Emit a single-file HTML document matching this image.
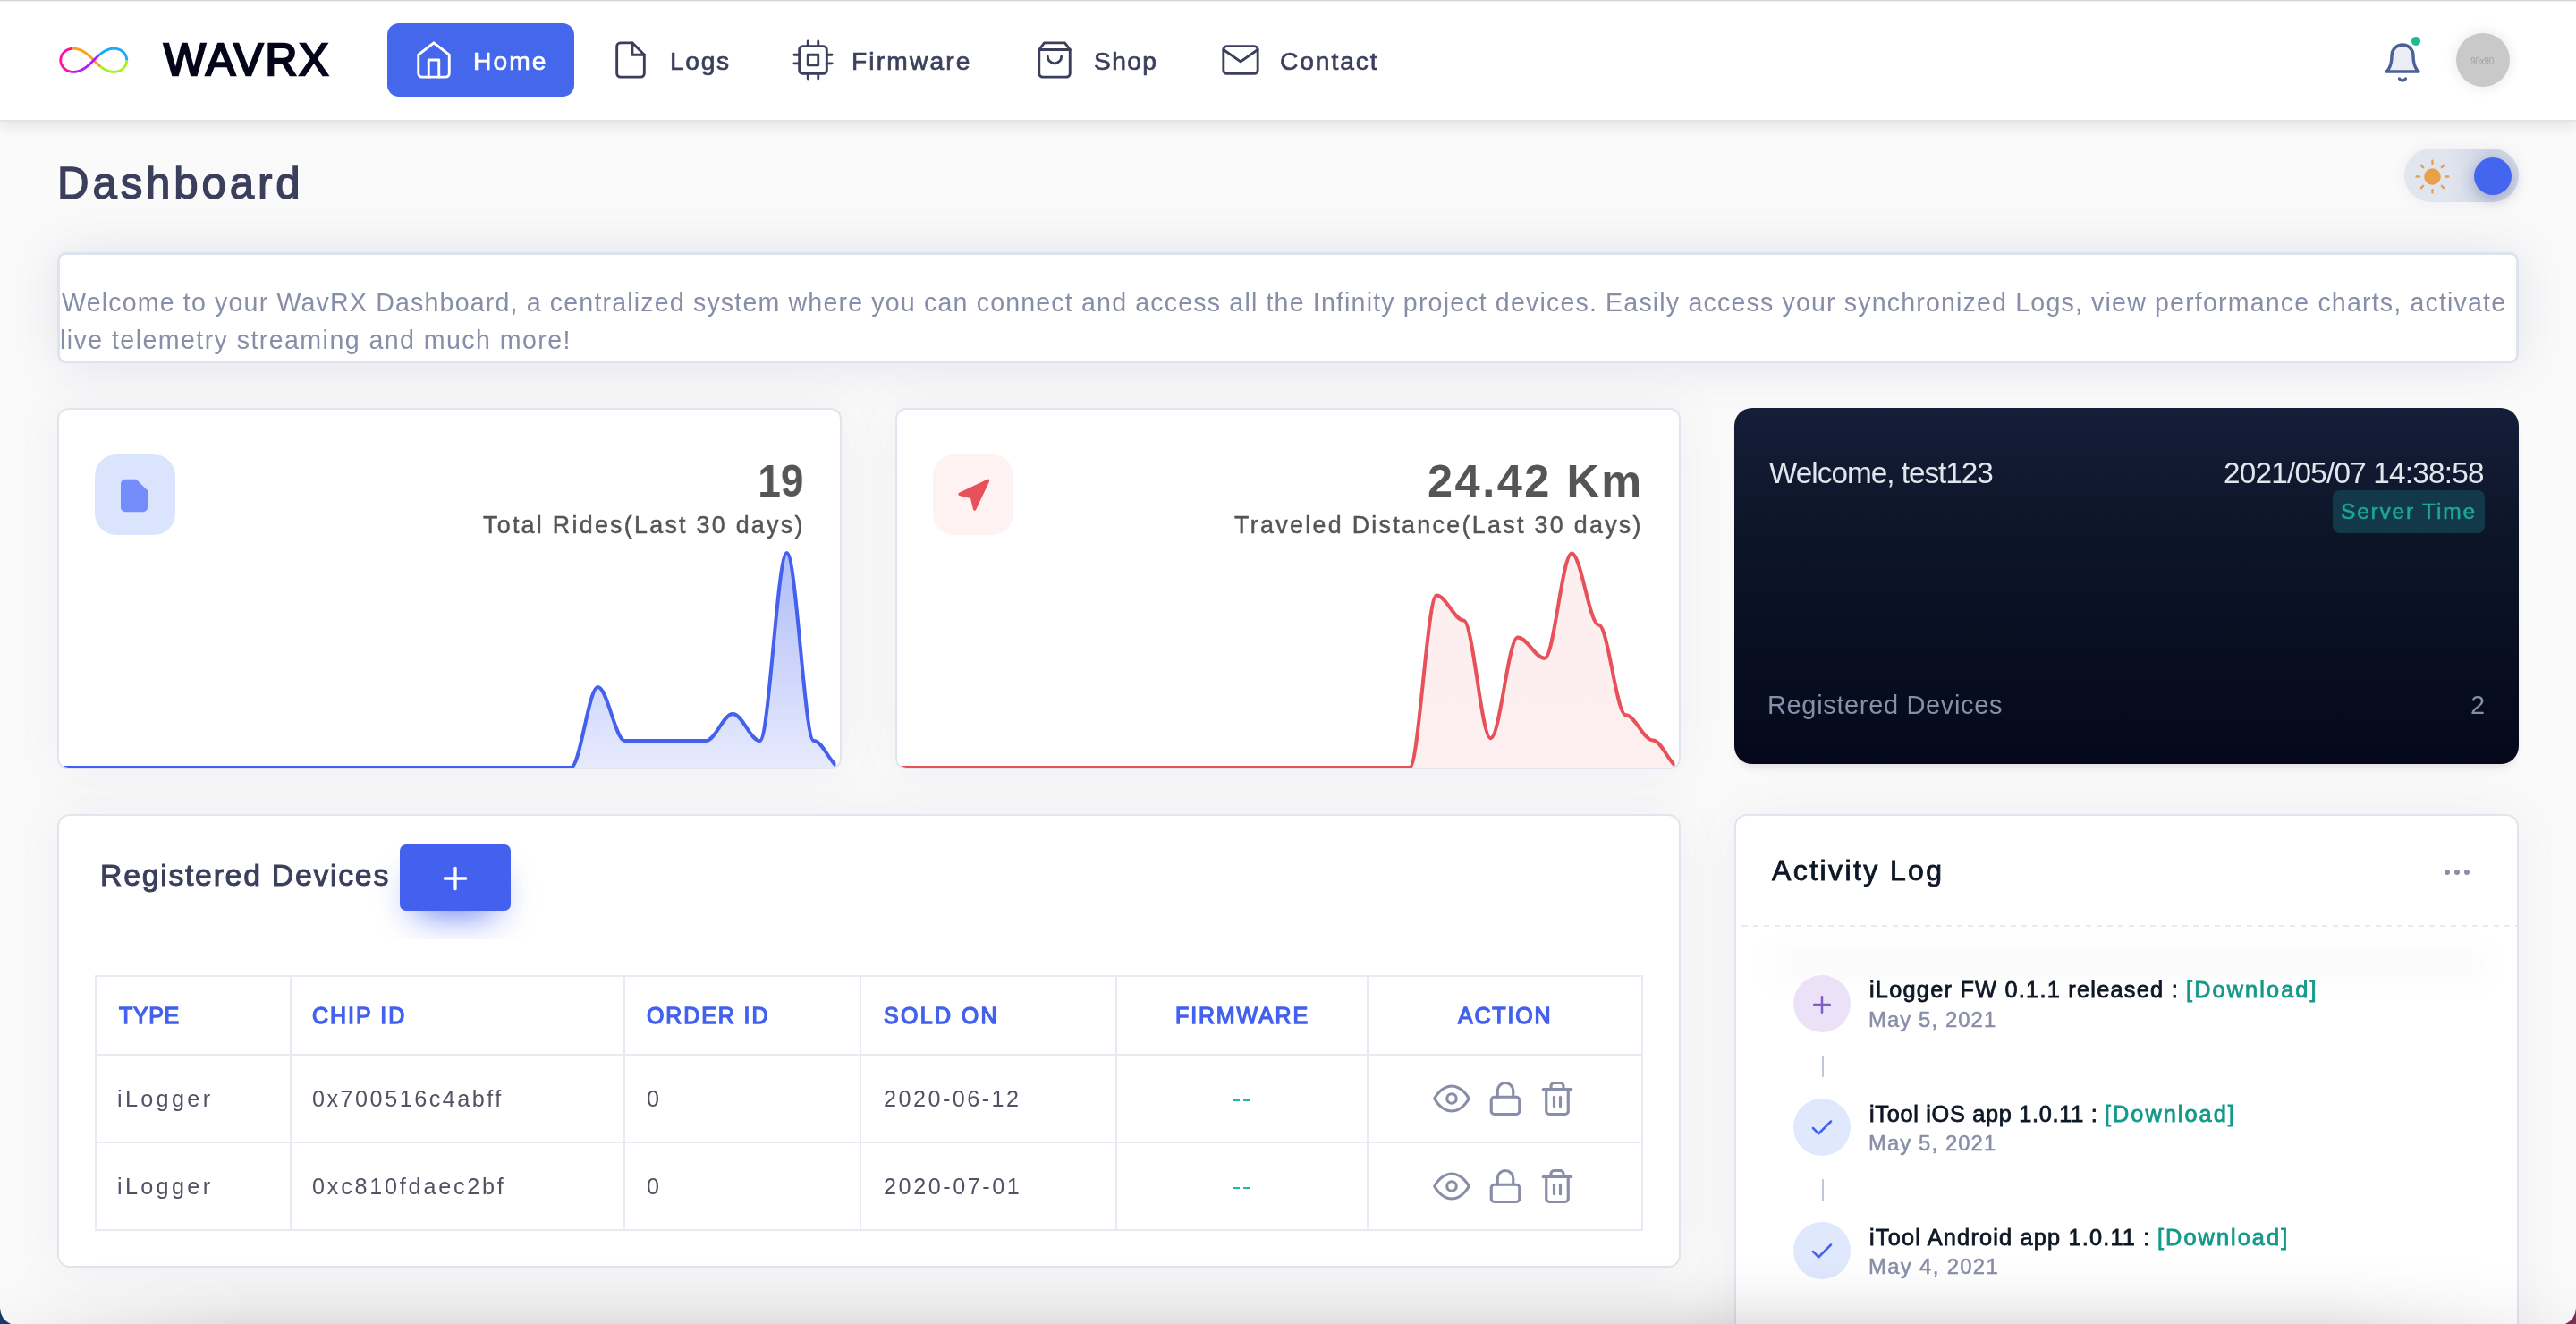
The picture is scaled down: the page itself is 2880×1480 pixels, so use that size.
<!DOCTYPE html><html><head><meta charset="utf-8"><title>WAVRX Dashboard</title><style>
*{box-sizing:border-box;margin:0;padding:0}
html,body{width:2880px;height:1480px;overflow:hidden}
body{background:#fafafa;font-family:"Liberation Sans",sans-serif;position:relative}
@media (max-width:1600px){html{zoom:.5}}
.abs{position:absolute}
.t{position:absolute;white-space:nowrap;display:block;will-change:transform}
.card{position:absolute;background:#fff;border:2px solid #e0e6ed;border-radius:12px;box-shadow:0 0 60px 0 rgba(94,92,154,.075);overflow:hidden}
.hl{position:absolute;background:#e9e9f2;height:2px}
.vl{position:absolute;background:#e9e9f2;width:2px}
</style></head><body>
<div class="abs" style="left:64px;top:282px;width:2752px;height:123.5px;background:#fff;border:3.6px solid #dde4ee;border-radius:9px;box-shadow:0 0 56px 0 rgba(94,92,154,.15)"></div>
<div class="card" style="left:64px;top:456px;width:877px;height:404px;"><svg class="abs" style="left:0;top:0" width="873" height="400" viewBox="0 0 873 400"><defs><linearGradient id="g1" x1="0" y1="160.0" x2="0" y2="400.0" gradientUnits="userSpaceOnUse"><stop offset="0" stop-color="#4361ee" stop-opacity="0.42"/><stop offset="1" stop-color="#4361ee" stop-opacity="0.13"/></linearGradient><clipPath id="cg1"><rect x="0" y="0" width="868.5" height="400"/></clipPath></defs><g clip-path="url(#cg1)"><path d="M-1.00 400.00 C9.56 400.00 18.61 400.00 29.17 400.00 C39.73 400.00 48.78 400.00 59.34 400.00 C69.91 400.00 78.96 400.00 89.52 400.00 C100.08 400.00 109.13 400.00 119.69 400.00 C130.25 400.00 139.30 400.00 149.86 400.00 C160.42 400.00 169.47 400.00 180.03 400.00 C190.59 400.00 199.65 400.00 210.21 400.00 C220.77 400.00 229.82 400.00 240.38 400.00 C250.94 400.00 259.99 400.00 270.55 400.00 C281.11 400.00 290.16 400.00 300.72 400.00 C311.28 400.00 320.34 400.00 330.90 400.00 C341.46 400.00 350.51 400.00 361.07 400.00 C371.63 400.00 380.68 400.00 391.24 400.00 C401.80 400.00 410.85 400.00 421.41 400.00 C431.97 400.00 441.03 400.00 451.59 400.00 C462.15 400.00 471.20 400.00 481.76 400.00 C492.32 400.00 501.37 400.00 511.93 400.00 C522.49 400.00 531.54 400.00 542.10 400.00 C552.66 400.00 561.72 400.00 572.28 400.00 C582.84 400.00 591.89 310.00 602.45 310.00 C613.01 310.00 622.06 370.00 632.62 370.00 C643.18 370.00 652.23 370.00 662.79 370.00 C673.35 370.00 682.41 370.00 692.97 370.00 C703.53 370.00 712.58 370.00 723.14 370.00 C733.70 370.00 742.75 340.00 753.31 340.00 C763.87 340.00 772.92 370.00 783.48 370.00 C794.04 370.00 803.09 160.00 813.66 160.00 C824.22 160.00 833.27 370.00 843.83 370.00 C854.39 370.00 863.44 400.00 874.00 400.00 L874.00 406.00 L-1.00 406.00 Z" fill="url(#g1)"/><path d="M-1.00 400.00 C9.56 400.00 18.61 400.00 29.17 400.00 C39.73 400.00 48.78 400.00 59.34 400.00 C69.91 400.00 78.96 400.00 89.52 400.00 C100.08 400.00 109.13 400.00 119.69 400.00 C130.25 400.00 139.30 400.00 149.86 400.00 C160.42 400.00 169.47 400.00 180.03 400.00 C190.59 400.00 199.65 400.00 210.21 400.00 C220.77 400.00 229.82 400.00 240.38 400.00 C250.94 400.00 259.99 400.00 270.55 400.00 C281.11 400.00 290.16 400.00 300.72 400.00 C311.28 400.00 320.34 400.00 330.90 400.00 C341.46 400.00 350.51 400.00 361.07 400.00 C371.63 400.00 380.68 400.00 391.24 400.00 C401.80 400.00 410.85 400.00 421.41 400.00 C431.97 400.00 441.03 400.00 451.59 400.00 C462.15 400.00 471.20 400.00 481.76 400.00 C492.32 400.00 501.37 400.00 511.93 400.00 C522.49 400.00 531.54 400.00 542.10 400.00 C552.66 400.00 561.72 400.00 572.28 400.00 C582.84 400.00 591.89 310.00 602.45 310.00 C613.01 310.00 622.06 370.00 632.62 370.00 C643.18 370.00 652.23 370.00 662.79 370.00 C673.35 370.00 682.41 370.00 692.97 370.00 C703.53 370.00 712.58 370.00 723.14 370.00 C733.70 370.00 742.75 340.00 753.31 340.00 C763.87 340.00 772.92 370.00 783.48 370.00 C794.04 370.00 803.09 160.00 813.66 160.00 C824.22 160.00 833.27 370.00 843.83 370.00 C854.39 370.00 863.44 400.00 874.00 400.00" fill="none" stroke="#4361ee" stroke-width="4" stroke-linecap="butt"/></g></svg></div>
<div class="card" style="left:1001px;top:456px;width:878px;height:404px;"><svg class="abs" style="left:0;top:0" width="874" height="400" viewBox="0 0 874 400"><defs><linearGradient id="g2" x1="0" y1="160.4" x2="0" y2="400.0" gradientUnits="userSpaceOnUse"><stop offset="0" stop-color="#e7515a" stop-opacity="0.1"/><stop offset="1" stop-color="#e7515a" stop-opacity="0.09"/></linearGradient><clipPath id="cg2"><rect x="0" y="0" width="869.5" height="400"/></clipPath></defs><g clip-path="url(#cg2)"><path d="M-1.00 400.00 C9.57 400.00 18.63 400.00 29.21 400.00 C39.78 400.00 48.84 400.00 59.41 400.00 C69.99 400.00 79.05 400.00 89.62 400.00 C100.19 400.00 109.26 400.00 119.83 400.00 C130.40 400.00 139.46 400.00 150.03 400.00 C160.61 400.00 169.67 400.00 180.24 400.00 C190.81 400.00 199.88 400.00 210.45 400.00 C221.02 400.00 230.08 400.00 240.66 400.00 C251.23 400.00 260.29 400.00 270.86 400.00 C281.43 400.00 290.50 400.00 301.07 400.00 C311.64 400.00 320.70 400.00 331.28 400.00 C341.85 400.00 350.91 400.00 361.48 400.00 C372.06 400.00 381.12 400.00 391.69 400.00 C402.26 400.00 411.32 400.00 421.90 400.00 C432.47 400.00 441.53 400.00 452.10 400.00 C462.68 400.00 471.74 400.00 482.31 400.00 C492.88 400.00 501.94 400.00 512.52 400.00 C523.09 400.00 532.15 400.00 542.72 400.00 C553.30 400.00 562.36 400.00 572.93 400.00 C583.50 400.00 592.57 207.40 603.14 207.40 C613.71 207.40 622.77 235.40 633.34 235.40 C643.92 235.40 652.98 367.20 663.55 367.20 C674.12 367.20 683.19 254.40 693.76 254.40 C704.33 254.40 713.39 277.80 723.97 277.80 C734.54 277.80 743.60 160.40 754.17 160.40 C764.74 160.40 773.81 240.40 784.38 240.40 C794.95 240.40 804.01 341.20 814.59 341.20 C825.16 341.20 834.22 369.40 844.79 369.40 C855.37 369.40 864.43 400.00 875.00 400.00 L875.00 406.00 L-1.00 406.00 Z" fill="url(#g2)"/><path d="M-1.00 400.00 C9.57 400.00 18.63 400.00 29.21 400.00 C39.78 400.00 48.84 400.00 59.41 400.00 C69.99 400.00 79.05 400.00 89.62 400.00 C100.19 400.00 109.26 400.00 119.83 400.00 C130.40 400.00 139.46 400.00 150.03 400.00 C160.61 400.00 169.67 400.00 180.24 400.00 C190.81 400.00 199.88 400.00 210.45 400.00 C221.02 400.00 230.08 400.00 240.66 400.00 C251.23 400.00 260.29 400.00 270.86 400.00 C281.43 400.00 290.50 400.00 301.07 400.00 C311.64 400.00 320.70 400.00 331.28 400.00 C341.85 400.00 350.91 400.00 361.48 400.00 C372.06 400.00 381.12 400.00 391.69 400.00 C402.26 400.00 411.32 400.00 421.90 400.00 C432.47 400.00 441.53 400.00 452.10 400.00 C462.68 400.00 471.74 400.00 482.31 400.00 C492.88 400.00 501.94 400.00 512.52 400.00 C523.09 400.00 532.15 400.00 542.72 400.00 C553.30 400.00 562.36 400.00 572.93 400.00 C583.50 400.00 592.57 207.40 603.14 207.40 C613.71 207.40 622.77 235.40 633.34 235.40 C643.92 235.40 652.98 367.20 663.55 367.20 C674.12 367.20 683.19 254.40 693.76 254.40 C704.33 254.40 713.39 277.80 723.97 277.80 C734.54 277.80 743.60 160.40 754.17 160.40 C764.74 160.40 773.81 240.40 784.38 240.40 C794.95 240.40 804.01 341.20 814.59 341.20 C825.16 341.20 834.22 369.40 844.79 369.40 C855.37 369.40 864.43 400.00 875.00 400.00" fill="none" stroke="#e7515a" stroke-width="4" stroke-linecap="butt"/></g></svg></div>
<div class="abs" style="left:106px;top:508px;width:90px;height:90px;border-radius:24px;background:#dae5fd"></div>
<svg class="abs" style="left:130.00px;top:533.75px" width="40" height="40" viewBox="0 0 24 24" fill="#748dfb" stroke="#748dfb" stroke-width="2" stroke-linecap="round" stroke-linejoin="round" ><path d="M13 2H6a2 2 0 0 0-2 2v16a2 2 0 0 0 2 2h12a2 2 0 0 0 2-2V9z"/><polyline points="13 2 13 9 20 9"/></svg>
<div class="abs" style="left:1043px;top:508px;width:90px;height:90px;border-radius:24px;background:#fef2f2"></div>
<svg class="abs" style="left:1067.70px;top:533.95px" width="40" height="40" viewBox="0 0 24 24" fill="#e7515a" stroke="#e7515a" stroke-width="2" stroke-linecap="round" stroke-linejoin="round" ><polygon points="3 11 22 2 13 21 11 13 3 11"/></svg>
<div class="abs" style="left:1939px;top:456px;width:877px;height:398px;border-radius:20px;background:linear-gradient(180deg,#151e38 0%,#0d1529 35%,#080e20 70%,#04081a 100%);box-shadow:0 8px 12px -6px rgba(0,0,0,.14)"></div>
<div class="abs" style="left:2608px;top:548px;width:170px;height:48px;border-radius:8px;background:#133948"></div>
<div class="card" style="left:64px;top:910px;width:1815px;height:507px;border-radius:14px"></div>
<div class="abs" style="left:360px;top:920px;width:300px;height:130px;overflow:hidden"><div class="abs" style="left:87px;top:24px;width:124px;height:74px;border-radius:7px;background:#4361ee;box-shadow:0 20px 40px -18px rgba(67,97,238,.95)"></div></div>
<svg class="abs" style="left:489.00px;top:962.30px" width="40" height="40" viewBox="0 0 24 24" fill="none" stroke="#fff" stroke-width="2" stroke-linecap="round" stroke-linejoin="round" ><line x1="12" y1="5" x2="12" y2="19"/><line x1="5" y1="12" x2="19" y2="12"/></svg>
<div class="hl" style="left:106px;top:1090px;width:1731px"></div>
<div class="hl" style="left:106px;top:1178px;width:1731px"></div>
<div class="hl" style="left:106px;top:1276px;width:1731px"></div>
<div class="hl" style="left:106px;top:1374px;width:1731px"></div>
<div class="vl" style="left:106px;top:1090px;height:286px"></div>
<div class="vl" style="left:324px;top:1090px;height:286px"></div>
<div class="vl" style="left:697px;top:1090px;height:286px"></div>
<div class="vl" style="left:961px;top:1090px;height:286px"></div>
<div class="vl" style="left:1247px;top:1090px;height:286px"></div>
<div class="vl" style="left:1528px;top:1090px;height:286px"></div>
<div class="vl" style="left:1835px;top:1090px;height:286px"></div>
<div class="abs" style="left:1378px;top:1229px;width:7.5px;height:2.2px;background:#1abc9c"></div><div class="abs" style="left:1390.3px;top:1229px;width:7.5px;height:2.2px;background:#1abc9c"></div>
<div class="abs" style="left:1378px;top:1327px;width:7.5px;height:2.2px;background:#1abc9c"></div><div class="abs" style="left:1390.3px;top:1327px;width:7.5px;height:2.2px;background:#1abc9c"></div>
<svg class="abs" style="left:1602.00px;top:1206.80px" width="42" height="42" viewBox="0 0 24 24" fill="none" stroke="#888ea8" stroke-width="1.8" stroke-linecap="round" stroke-linejoin="round" ><path d="M1 12s4-8 11-8 11 8 11 8-4 8-11 8-11-8-11-8z"/><circle cx="12" cy="12" r="3"/></svg>
<svg class="abs" style="left:1662.10px;top:1207.00px" width="42" height="42" viewBox="0 0 24 24" fill="none" stroke="#888ea8" stroke-width="1.8" stroke-linecap="round" stroke-linejoin="round" ><rect x="3" y="11" width="18" height="11" rx="2" ry="2"/><path d="M7 11V7a5 5 0 0 1 10 0v4"/></svg>
<svg class="abs" style="left:1720.00px;top:1207.00px" width="42" height="42" viewBox="0 0 24 24" fill="none" stroke="#888ea8" stroke-width="1.8" stroke-linecap="round" stroke-linejoin="round" ><polyline points="3 6 5 6 21 6"/><path d="M19 6v14a2 2 0 0 1-2 2H7a2 2 0 0 1-2-2V6m3 0V4a2 2 0 0 1 2-2h4a2 2 0 0 1 2 2v2"/><line x1="10" y1="11" x2="10" y2="17"/><line x1="14" y1="11" x2="14" y2="17"/></svg>
<svg class="abs" style="left:1602.00px;top:1304.80px" width="42" height="42" viewBox="0 0 24 24" fill="none" stroke="#888ea8" stroke-width="1.8" stroke-linecap="round" stroke-linejoin="round" ><path d="M1 12s4-8 11-8 11 8 11 8-4 8-11 8-11-8-11-8z"/><circle cx="12" cy="12" r="3"/></svg>
<svg class="abs" style="left:1662.10px;top:1305.00px" width="42" height="42" viewBox="0 0 24 24" fill="none" stroke="#888ea8" stroke-width="1.8" stroke-linecap="round" stroke-linejoin="round" ><rect x="3" y="11" width="18" height="11" rx="2" ry="2"/><path d="M7 11V7a5 5 0 0 1 10 0v4"/></svg>
<svg class="abs" style="left:1720.00px;top:1305.00px" width="42" height="42" viewBox="0 0 24 24" fill="none" stroke="#888ea8" stroke-width="1.8" stroke-linecap="round" stroke-linejoin="round" ><polyline points="3 6 5 6 21 6"/><path d="M19 6v14a2 2 0 0 1-2 2H7a2 2 0 0 1-2-2V6m3 0V4a2 2 0 0 1 2-2h4a2 2 0 0 1 2 2v2"/><line x1="10" y1="11" x2="10" y2="17"/><line x1="14" y1="11" x2="14" y2="17"/></svg>
<div class="card" style="left:1939px;top:910px;width:877px;height:620px;border-radius:14px"><div class="abs" style="left:0;top:122.3px;width:877px;height:1.6px;background:repeating-linear-gradient(90deg,#e7ebf1 0,#e7ebf1 6px,transparent 6px,transparent 12px);background-position:7px 0"></div><div class="abs" style="left:40px;top:150px;width:800px;height:34px;background:rgba(60,60,90,.028);filter:blur(14px)"></div></div>
<div class="abs" style="left:2732.75px;top:972px;width:6px;height:6px;border-radius:50%;background:#888ea8"></div>
<div class="abs" style="left:2743.75px;top:972px;width:6px;height:6px;border-radius:50%;background:#888ea8"></div>
<div class="abs" style="left:2755px;top:972px;width:6px;height:6px;border-radius:50%;background:#888ea8"></div>
<div class="abs" style="left:2005px;top:1090px;width:64px;height:64px;border-radius:50%;background:#ece2f8"></div>
<svg class="abs" style="left:2021.90px;top:1108.00px" width="30" height="30" viewBox="0 0 24 24" fill="none" stroke="#805dca" stroke-width="2" stroke-linecap="round" stroke-linejoin="round" ><line x1="12" y1="5" x2="12" y2="19"/><line x1="5" y1="12" x2="19" y2="12"/></svg>
<div class="abs" style="left:2037px;top:1180px;width:2px;height:24px;background:#bfc9d4"></div>
<div class="abs" style="left:2005px;top:1228px;width:64px;height:64px;border-radius:50%;background:#e0e8fd"></div>
<svg class="abs" style="left:2021.90px;top:1245.60px" width="30" height="30" viewBox="0 0 24 24" fill="none" stroke="#4361ee" stroke-width="2" stroke-linecap="round" stroke-linejoin="round" ><polyline points="20 6 9 17 4 12"/></svg>
<div class="abs" style="left:2037px;top:1318px;width:2px;height:24px;background:#bfc9d4"></div>
<div class="abs" style="left:2005px;top:1366px;width:64px;height:64px;border-radius:50%;background:#e0e8fd"></div>
<svg class="abs" style="left:2021.90px;top:1383.60px" width="30" height="30" viewBox="0 0 24 24" fill="none" stroke="#4361ee" stroke-width="2" stroke-linecap="round" stroke-linejoin="round" ><polyline points="20 6 9 17 4 12"/></svg>
<div class="abs" style="left:0;top:0;width:2880px;height:134px;background:#fff;box-shadow:0 2px 0 0 #dfe5ed,0 8px 14px 0 rgba(0,0,0,.085)"></div>
<div class="abs" style="left:0;top:0;width:2880px;height:1px;background:#d6d6d6"></div><div class="abs" style="left:0;top:1px;width:2880px;height:1px;background:#efefef"></div><div class="abs" style="left:0;top:2px;width:2880px;height:1px;background:#fbfbfb"></div>
<svg class="abs" style="left:0;top:0" width="220" height="134" viewBox="0 0 220 134" fill="none" stroke-width="2.9" stroke-linecap="butt" stroke-linejoin="round"><path d="M141.70 67.30 L141.68 68.03 L141.61 68.75 L141.51 69.47 L141.36 70.18 L141.17 70.88 L140.94 71.57 L140.67 72.24 L140.37 72.89 L140.02 73.52 L139.65 74.13 L139.24 74.71 L138.81 75.27 L138.34 75.81 L137.85 76.31 L137.34 76.79 L136.80 77.23 L136.25 77.65 L135.67 78.04 L135.09 78.39 L134.49 78.71 L133.88 79.01 L133.26 79.27 L132.63 79.50 L132.00 79.71 L131.36 79.88 L130.72 80.03 L130.08 80.15 L129.44 80.24 L128.80 80.30 L128.17 80.35 L127.53 80.36 L126.90 80.36 L126.28 80.33 L125.66 80.28 L125.05 80.21 L124.44 80.12 L123.85 80.02 L123.25 79.89 L122.67 79.75 L122.10 79.60 L121.53 79.43 L120.97 79.24 L120.42 79.04 L119.88 78.83 L119.35 78.61 L118.82 78.38 L118.31 78.13 L117.80 77.88 L117.30 77.62 L116.81 77.35 L116.33 77.07 L115.85 76.78 L115.38 76.49 L114.92 76.19 L114.47 75.89 L114.02 75.58 L113.58 75.26 L113.15 74.94 L112.72 74.62 L112.30 74.29" stroke="#a3f31f"/><path d="M112.30 74.29 L111.81 73.89 L111.33 73.49 L110.85 73.09 L110.38 72.68 L109.91 72.27 L109.46 71.86 L109.00 71.44 L108.55 71.02 L108.11 70.60 L107.67 70.18 L107.23 69.76 L106.79 69.33 L106.36 68.90 L105.93 68.47 L105.50 68.05 L105.07 67.62 L104.64 67.19 L104.21 66.76 L103.78 66.33 L103.35 65.90 L102.91 65.47 L102.48 65.04 L102.04 64.62 L101.60 64.20 L101.16 63.77 L100.71 63.35 L100.26 62.94 L99.80 62.52 L99.34 62.11 L98.87 61.70 L98.40 61.30 L97.92 60.89 L97.43 60.50 L96.94 60.11 L96.43 59.72 L95.92 59.34 L95.40 58.97 L94.87 58.61 L94.34 58.25 L93.79 57.90 L93.23 57.56 L92.66 57.23 L92.08 56.92 L91.48 56.61 L90.88 56.32 L90.26 56.04 L89.64 55.77 L89.00 55.53 L88.35 55.30 L87.68 55.09 L87.01 54.89 L86.32 54.72 L85.63 54.58 L84.92 54.45 L84.20 54.36 L83.48 54.29 L82.74 54.25 L82.00 54.24 L81.25 54.26 L80.50 54.31" stroke="#f7a21b"/><path d="M80.50 54.31 L79.92 54.38 L79.35 54.47 L78.77 54.57 L78.19 54.71 L77.62 54.86 L77.05 55.04 L76.48 55.24 L75.92 55.46 L75.36 55.71 L74.82 55.99 L74.28 56.29 L73.75 56.61 L73.24 56.96 L72.74 57.34 L72.25 57.74 L71.78 58.16 L71.33 58.61 L70.91 59.08 L70.50 59.57 L70.12 60.08 L69.76 60.62 L69.42 61.17 L69.12 61.74 L68.84 62.33 L68.60 62.93 L68.38 63.55 L68.20 64.18 L68.05 64.81 L67.94 65.46 L67.86 66.11 L67.81 66.76 L67.80 67.42 L67.82 68.07 L67.88 68.73 L67.98 69.38 L68.10 70.02 L68.26 70.65 L68.46 71.28 L68.68 71.89 L68.94 72.48 L69.23 73.07 L69.54 73.63 L69.88 74.18 L70.25 74.71 L70.64 75.21 L71.06 75.70 L71.49 76.16 L71.95 76.60 L72.42 77.01 L72.92 77.40 L73.42 77.77 L73.94 78.11 L74.47 78.42 L75.01 78.71 L75.56 78.98 L76.12 79.22 L76.68 79.44 L77.25 79.63 L77.82 79.80 L78.40 79.94" stroke="#ff10a4"/><path d="M110.60 61.72 L111.03 61.36 L111.46 60.99 L111.90 60.63 L112.35 60.28 L112.80 59.92 L113.26 59.58 L113.72 59.24 L114.20 58.90 L114.68 58.57 L115.17 58.25 L115.66 57.93 L116.17 57.62 L116.68 57.32 L117.21 57.03 L117.74 56.75 L118.28 56.48 L118.83 56.22 L119.39 55.97 L119.96 55.73 L120.54 55.51 L121.14 55.30 L121.73 55.11 L122.34 54.93 L122.96 54.78 L123.59 54.63 L124.23 54.51 L124.87 54.41 L125.53 54.33 L126.19 54.28 L126.85 54.24 L127.53 54.24 L128.20 54.26 L128.88 54.30 L129.57 54.38 L130.25 54.48 L130.94 54.62 L131.62 54.79 L132.30 54.99 L132.97 55.22 L133.64 55.49 L134.30 55.79 L134.94 56.13 L135.57 56.50 L136.18 56.91 L136.78 57.35 L137.35 57.82 L137.90 58.34 L138.42 58.88 L138.91 59.46 L139.37 60.06 L139.79 60.70 L140.18 61.36 L140.53 62.04 L140.83 62.75 L141.09 63.48 L141.31 64.22 L141.48 64.98 L141.60 65.75 L141.68 66.52 L141.70 67.30" stroke="#1ea8f5"/><path d="M78.40 79.94 L79.15 80.10 L79.89 80.22 L80.64 80.30 L81.38 80.35 L82.12 80.36 L82.85 80.35 L83.57 80.30 L84.29 80.23 L85.00 80.13 L85.69 80.01 L86.38 79.86 L87.06 79.69 L87.72 79.50 L88.38 79.29 L89.02 79.06 L89.65 78.82 L90.27 78.56 L90.88 78.28 L91.47 78.00 L92.06 77.69 L92.63 77.38 L93.20 77.06 L93.75 76.72 L94.29 76.38 L94.82 76.03 L95.35 75.67 L95.86 75.30 L96.37 74.93 L96.87 74.55 L97.36 74.16 L97.84 73.77 L98.31 73.38 L98.78 72.98 L99.25 72.58 L99.70 72.17 L100.15 71.76 L100.60 71.35 L101.04 70.93 L101.48 70.52 L101.92 70.10 L102.35 69.68 L102.78 69.26 L103.21 68.84 L103.63 68.41 L104.06 67.99 L104.48 67.57 L104.91 67.14 L105.33 66.72 L105.76 66.29 L106.18 65.87 L106.61 65.45 L107.04 65.03 L107.47 64.61 L107.91 64.19 L108.34 63.77 L108.79 63.36 L109.23 62.94 L109.68 62.53 L110.14 62.13 L110.60 61.72" stroke="#b41aff"/></svg>
<div class="abs" style="left:433px;top:26px;width:209px;height:82px;border-radius:13px;background:#4567ec"></div>
<svg class="abs" style="left:462.00px;top:44.00px" width="46" height="46" viewBox="0 0 24 24" fill="none" stroke="#fff" stroke-width="1.5" stroke-linecap="round" stroke-linejoin="round" ><path d="M3 9l9-7 9 7v11a2 2 0 0 1-2 2H5a2 2 0 0 1-2-2z"/><polyline points="9 22 9 12 15 12 15 22"/></svg>
<svg class="abs" style="left:681.50px;top:44.00px" width="46" height="46" viewBox="0 0 24 24" fill="none" stroke="#3b3f5c" stroke-width="1.5" stroke-linecap="round" stroke-linejoin="round" ><path d="M13 2H6a2 2 0 0 0-2 2v16a2 2 0 0 0 2 2h12a2 2 0 0 0 2-2V9z"/><polyline points="13 2 13 9 20 9"/></svg>
<svg class="abs" style="left:886.00px;top:44.00px" width="46" height="46" viewBox="0 0 24 24" fill="none" stroke="#3b3f5c" stroke-width="1.5" stroke-linecap="round" stroke-linejoin="round" ><rect x="4" y="4" width="16" height="16" rx="2" ry="2"/><rect x="9" y="9" width="6" height="6"/><line x1="9" y1="1" x2="9" y2="4"/><line x1="15" y1="1" x2="15" y2="4"/><line x1="9" y1="20" x2="9" y2="23"/><line x1="15" y1="20" x2="15" y2="23"/><line x1="20" y1="9" x2="23" y2="9"/><line x1="20" y1="14" x2="23" y2="14"/><line x1="1" y1="9" x2="4" y2="9"/><line x1="1" y1="14" x2="4" y2="14"/></svg>
<svg class="abs" style="left:1155.80px;top:44.00px" width="46" height="46" viewBox="0 0 24 24" fill="none" stroke="#3b3f5c" stroke-width="1.5" stroke-linecap="round" stroke-linejoin="round" ><path d="M6 2L3 6v14a2 2 0 0 0 2 2h14a2 2 0 0 0 2-2V6l-3-4z"/><line x1="3" y1="6" x2="21" y2="6"/><path d="M16 10a4 4 0 0 1-8 0"/></svg>
<svg class="abs" style="left:1364.00px;top:44.00px" width="46" height="46" viewBox="0 0 24 24" fill="none" stroke="#3b3f5c" stroke-width="1.5" stroke-linecap="round" stroke-linejoin="round" ><path d="M4 4h16c1.1 0 2 .9 2 2v12c0 1.1-.9 2-2 2H4c-1.1 0-2-.9-2-2V6c0-1.1.9-2 2-2z"/><polyline points="22,6 12,13 2,6"/></svg>
<svg class="abs" style="left:2662.10px;top:46.00px" width="48" height="48" viewBox="0 0 24 24" fill="#ebecf4" stroke="#4a6197" stroke-width="1.7" stroke-linecap="round" stroke-linejoin="round" ><path d="M18 8A6 6 0 0 0 6 8c0 7-3 9-3 9h18s-3-2-3-9"/><path d="M13.73 21a2 2 0 0 1-3.46 0" fill="none"/></svg>
<div class="abs" style="left:2696px;top:41px;width:10px;height:10px;border-radius:50%;background:#22b895"></div>
<div class="abs" style="left:2746px;top:37px;width:60px;height:60px;border-radius:50%;background:#c9c9c9;box-shadow:0 0 14px 2px rgba(0,0,0,.08)"></div>
<div class="abs" style="left:2688px;top:166px;width:128px;height:60px;border-radius:30px;background:linear-gradient(90deg,#e1e6ef 0%,#dfe4ee 40%,#cfd4e4 75%,#d3d8e6 100%);box-shadow:0 0 18px 0 rgba(94,92,154,.08)"></div>
<div class="abs" style="left:2766px;top:176px;width:42px;height:42px;border-radius:50%;background:#4465ee;box-shadow:0 4px 14px 2px rgba(80,90,150,.30)"></div>
<svg class="abs" style="left:2699.50px;top:177.50px" width="39" height="39" viewBox="0 0 24 24" fill="#e8a049" stroke="#e8a049" stroke-width="1.45" stroke-linecap="round" stroke-linejoin="round" ><circle cx="12" cy="12" r="5"/><line x1="12" y1="1" x2="12" y2="3"/><line x1="12" y1="21" x2="12" y2="23"/><line x1="4.22" y1="4.22" x2="5.64" y2="5.64"/><line x1="18.36" y1="18.36" x2="19.78" y2="19.78"/><line x1="1" y1="12" x2="3" y2="12"/><line x1="21" y1="12" x2="23" y2="12"/><line x1="4.22" y1="19.78" x2="5.64" y2="18.36"/><line x1="18.36" y1="5.64" x2="19.78" y2="4.22"/></svg>
<span class="t" style="left:183.00px;top:43.46px;font:normal 49.6px/1 'Liberation Sans',sans-serif;color:#05061a;-webkit-text-stroke:2.4px #05061a;letter-spacing:2.0px;">WAVRX</span>
<span class="t" style="left:528.80px;top:54.17px;font:normal 28.2px/1 'Liberation Sans',sans-serif;color:#ffffff;-webkit-text-stroke:0.7px #ffffff;letter-spacing:2.067px;">Home</span>
<span class="t" style="left:748.50px;top:54.42px;font:normal 28.2px/1 'Liberation Sans',sans-serif;color:#3b3f5c;-webkit-text-stroke:0.7px #3b3f5c;letter-spacing:1.667px;">Logs</span>
<span class="t" style="left:952.00px;top:54.42px;font:normal 28.2px/1 'Liberation Sans',sans-serif;color:#3b3f5c;-webkit-text-stroke:0.7px #3b3f5c;letter-spacing:2.143px;">Firmware</span>
<span class="t" style="left:1223.00px;top:54.42px;font:normal 28.2px/1 'Liberation Sans',sans-serif;color:#3b3f5c;-webkit-text-stroke:0.7px #3b3f5c;letter-spacing:1.333px;">Shop</span>
<span class="t" style="left:1430.50px;top:54.42px;font:normal 28.2px/1 'Liberation Sans',sans-serif;color:#3b3f5c;-webkit-text-stroke:0.7px #3b3f5c;letter-spacing:1.917px;">Contact</span>
<span class="t" style="left:2762.00px;top:63.80px;font:normal 10px/1 'Liberation Sans',sans-serif;color:#a3a3a3;letter-spacing:-0.25px;">90x90</span>
<span class="t" style="left:64.00px;top:180.25px;font:normal 49.2px/1 'Liberation Sans',sans-serif;color:#3b3f5c;-webkit-text-stroke:1.4px #3b3f5c;letter-spacing:3.875px;">Dashboard</span>
<span class="t" style="left:69.00px;top:324.39px;font:normal 28.6px/1 'Liberation Sans',sans-serif;color:#888ea8;letter-spacing:1.157px;">Welcome to your WavRX Dashboard, a centralized system where you can connect and access all the Infinity project devices. Easily access your synchronized Logs, view performance charts, activate</span>
<span class="t" style="left:67.00px;top:366.39px;font:normal 28.6px/1 'Liberation Sans',sans-serif;color:#888ea8;letter-spacing:1.421px;">live telemetry streaming and much more!</span>
<span class="t" style="left:846.50px;top:513.28px;font:bold 50.5px/1 'Liberation Sans',sans-serif;color:#555555;transform-origin:3px 0;transform:scaleX(0.9118);">19</span>
<span class="t" style="left:540.00px;top:573.70px;font:normal 26.8px/1 'Liberation Sans',sans-serif;color:#555555;-webkit-text-stroke:0.5px #555555;letter-spacing:2.292px;">Total Rides(Last 30 days)</span>
<span class="t" style="left:1595.50px;top:513.28px;font:bold 50.5px/1 'Liberation Sans',sans-serif;color:#555555;letter-spacing:2.5px;">24.42 Km</span>
<span class="t" style="left:1380.00px;top:573.70px;font:normal 26.8px/1 'Liberation Sans',sans-serif;color:#555555;-webkit-text-stroke:0.5px #555555;letter-spacing:2.325px;">Traveled Distance(Last 30 days)</span>
<span class="t" style="left:1977.50px;top:512.40px;font:normal 33.3px/1 'Liberation Sans',sans-serif;color:#e0e6ed;letter-spacing:-1.0px;">Welcome, test123</span>
<span class="t" style="left:2486.00px;top:512.40px;font:normal 33.3px/1 'Liberation Sans',sans-serif;color:#e0e6ed;letter-spacing:-0.778px;">2021/05/07 14:38:58</span>
<span class="t" style="left:2617.00px;top:559.57px;font:normal 24.6px/1 'Liberation Sans',sans-serif;color:#1ba898;-webkit-text-stroke:0.5px #1ba898;letter-spacing:1.75px;">Server Time</span>
<span class="t" style="left:1976.00px;top:774.05px;font:normal 29px/1 'Liberation Sans',sans-serif;color:#888ea8;letter-spacing:0.647px;">Registered Devices</span>
<span class="t" style="left:2761.70px;top:774.05px;font:normal 29px/1 'Liberation Sans',sans-serif;color:#888ea8;letter-spacing:0px;">2</span>
<span class="t" style="left:111.75px;top:961.72px;font:normal 33.8px/1 'Liberation Sans',sans-serif;color:#3b3f5c;-webkit-text-stroke:1.0px #3b3f5c;letter-spacing:1.721px;">Registered Devices</span>
<span class="t" style="left:133.00px;top:1122.87px;font:normal 25.0px/1 'Liberation Sans',sans-serif;color:#4361ee;-webkit-text-stroke:1.3px #4361ee;letter-spacing:0.667px;">TYPE</span>
<span class="t" style="left:349.00px;top:1122.87px;font:normal 25.0px/1 'Liberation Sans',sans-serif;color:#4361ee;-webkit-text-stroke:1.3px #4361ee;letter-spacing:2.0px;">CHIP ID</span>
<span class="t" style="left:722.75px;top:1122.87px;font:normal 25.0px/1 'Liberation Sans',sans-serif;color:#4361ee;-webkit-text-stroke:1.3px #4361ee;letter-spacing:1.893px;">ORDER ID</span>
<span class="t" style="left:987.50px;top:1122.87px;font:normal 25.0px/1 'Liberation Sans',sans-serif;color:#4361ee;-webkit-text-stroke:1.3px #4361ee;letter-spacing:2.333px;">SOLD ON</span>
<span class="t" style="left:1313.75px;top:1122.87px;font:normal 25.0px/1 'Liberation Sans',sans-serif;color:#4361ee;-webkit-text-stroke:1.3px #4361ee;letter-spacing:1.857px;">FIRMWARE</span>
<span class="t" style="left:1630.00px;top:1122.87px;font:normal 25.0px/1 'Liberation Sans',sans-serif;color:#4361ee;-webkit-text-stroke:1.3px #4361ee;letter-spacing:1.8px;">ACTION</span>
<span class="t" style="left:131.00px;top:1216.28px;font:normal 25.2px/1 'Liberation Sans',sans-serif;color:#515365;letter-spacing:3.333px;">iLogger</span>
<span class="t" style="left:349.00px;top:1216.28px;font:normal 25.2px/1 'Liberation Sans',sans-serif;color:#515365;letter-spacing:2.5px;">0x700516c4abff</span>
<span class="t" style="left:722.75px;top:1216.28px;font:normal 25.2px/1 'Liberation Sans',sans-serif;color:#515365;letter-spacing:0px;">0</span>
<span class="t" style="left:987.75px;top:1216.28px;font:normal 25.2px/1 'Liberation Sans',sans-serif;color:#515365;letter-spacing:2.472px;">2020-06-12</span>
<span class="t" style="left:131.00px;top:1314.28px;font:normal 25.2px/1 'Liberation Sans',sans-serif;color:#515365;letter-spacing:3.333px;">iLogger</span>
<span class="t" style="left:349.00px;top:1314.28px;font:normal 25.2px/1 'Liberation Sans',sans-serif;color:#515365;letter-spacing:2.769px;">0xc810fdaec2bf</span>
<span class="t" style="left:722.75px;top:1314.28px;font:normal 25.2px/1 'Liberation Sans',sans-serif;color:#515365;letter-spacing:0px;">0</span>
<span class="t" style="left:987.75px;top:1314.28px;font:normal 25.2px/1 'Liberation Sans',sans-serif;color:#515365;letter-spacing:2.556px;">2020-07-01</span>
<span class="t" style="left:1980.50px;top:956.87px;font:normal 32.0px/1 'Liberation Sans',sans-serif;color:#0e1726;-webkit-text-stroke:0.85px #0e1726;letter-spacing:2.409px;">Activity Log</span>
<span class="t" style="left:2090.25px;top:1094.34px;font:normal 25.3px/1 'Liberation Sans',sans-serif;color:#0e1726;-webkit-text-stroke:0.8px #0e1726;letter-spacing:1.25px;">iLogger FW 0.1.1 released :</span>
<span class="t" style="left:2443.50px;top:1094.34px;font:normal 25.3px/1 'Liberation Sans',sans-serif;color:#12998a;-webkit-text-stroke:0.8px #12998a;letter-spacing:2.111px;">[Download]</span>
<span class="t" style="left:2089.25px;top:1128.25px;font:normal 23.8px/1 'Liberation Sans',sans-serif;color:#888ea8;-webkit-text-stroke:0.5px #888ea8;letter-spacing:1.125px;">May 5, 2021</span>
<span class="t" style="left:2090.25px;top:1232.59px;font:normal 25.3px/1 'Liberation Sans',sans-serif;color:#0e1726;-webkit-text-stroke:0.8px #0e1726;letter-spacing:0.702px;">iTool iOS app 1.0.11 :</span>
<span class="t" style="left:2352.75px;top:1232.59px;font:normal 25.3px/1 'Liberation Sans',sans-serif;color:#12998a;-webkit-text-stroke:0.8px #12998a;letter-spacing:2.028px;">[Download]</span>
<span class="t" style="left:2089.25px;top:1266.00px;font:normal 23.8px/1 'Liberation Sans',sans-serif;color:#888ea8;-webkit-text-stroke:0.5px #888ea8;letter-spacing:1.125px;">May 5, 2021</span>
<span class="t" style="left:2090.25px;top:1370.59px;font:normal 25.3px/1 'Liberation Sans',sans-serif;color:#0e1726;-webkit-text-stroke:0.8px #0e1726;letter-spacing:1.19px;">iTool Android app 1.0.11 :</span>
<span class="t" style="left:2412.00px;top:1370.59px;font:normal 25.3px/1 'Liberation Sans',sans-serif;color:#12998a;-webkit-text-stroke:0.8px #12998a;letter-spacing:2.067px;">[Download]</span>
<span class="t" style="left:2089.25px;top:1404.00px;font:normal 23.8px/1 'Liberation Sans',sans-serif;color:#888ea8;-webkit-text-stroke:0.5px #888ea8;letter-spacing:1.375px;">May 4, 2021</span>
<div class="abs" style="left:0;top:1400px;width:2880px;height:80px;background:linear-gradient(180deg,rgba(0,0,0,0) 0%,rgba(0,0,0,.007) 25%,rgba(0,0,0,.027) 50%,rgba(0,0,0,.06) 75%,rgba(0,0,0,.108) 100%);-webkit-mask-image:linear-gradient(90deg,rgba(0,0,0,.15) 0,rgba(0,0,0,.5) 110px,#000 280px,#000 2600px,rgba(0,0,0,.5) 2770px,rgba(0,0,0,.15) 2880px);mask-image:linear-gradient(90deg,rgba(0,0,0,.15) 0,rgba(0,0,0,.5) 110px,#000 280px,#000 2600px,rgba(0,0,0,.5) 2770px,rgba(0,0,0,.15) 2880px)"></div>
<svg class="abs" style="left:0;top:1440px" width="40" height="40" viewBox="0 0 40 40"><path d="M0 0 L0 40 L40 40 L40 43 A20 20 0 0 1 0 23 Z" fill="none"/><path d="M0 22 A21 21 0 0 0 12 40 L0 40 Z" fill="#173b68"/></svg>
<svg class="abs" style="left:2840px;top:1440px" width="40" height="40" viewBox="0 0 40 40"><path d="M40 22 A21 21 0 0 1 28 40 L40 40 Z" fill="#7b2c57"/></svg>
</body></html>
